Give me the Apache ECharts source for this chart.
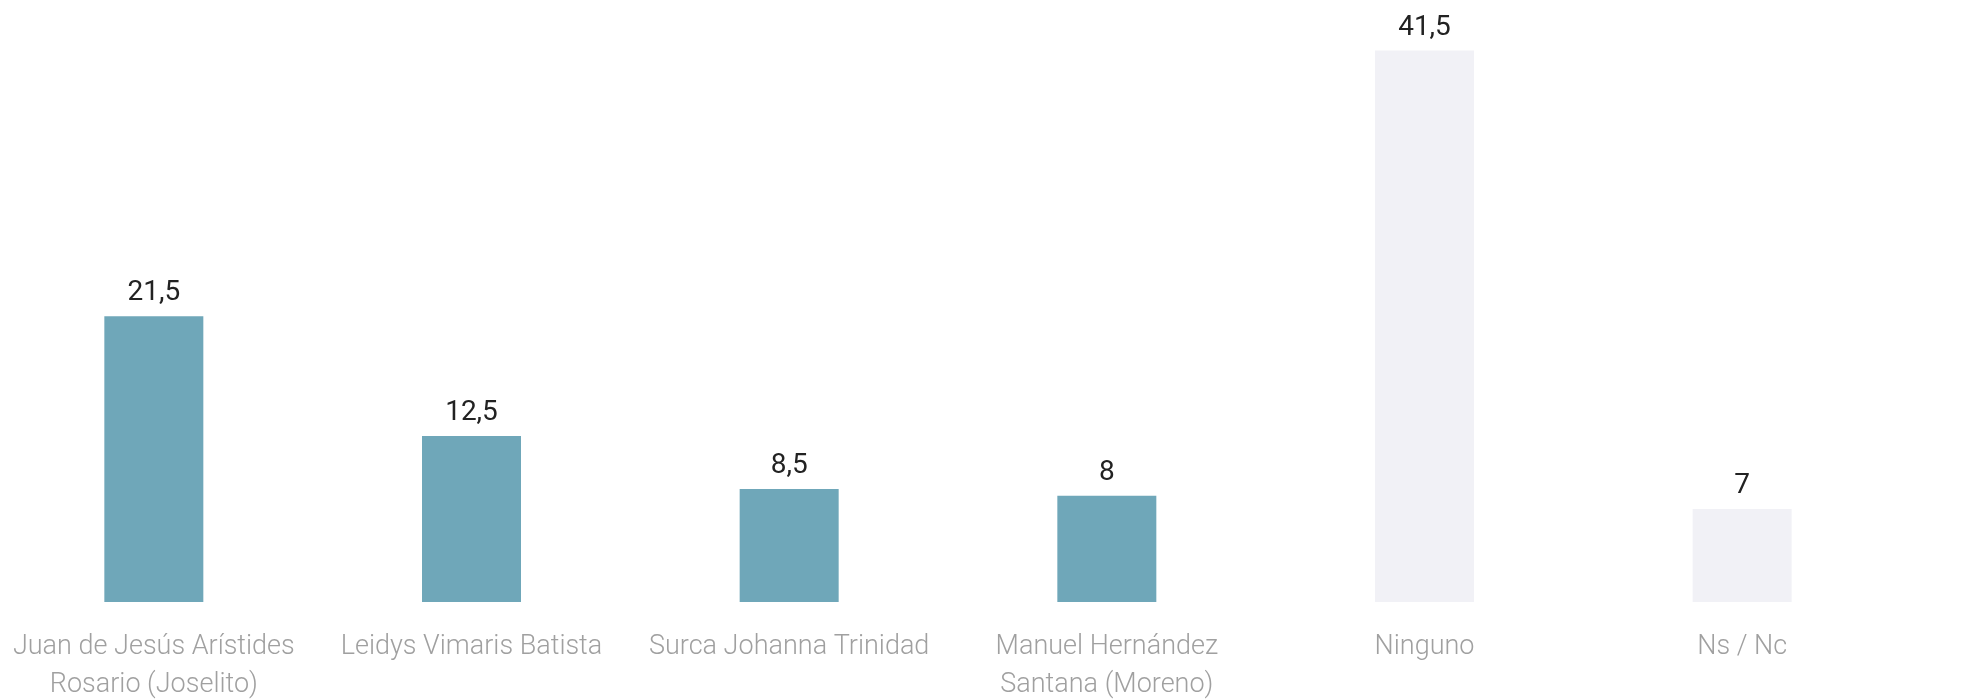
<!DOCTYPE html>
<html>
<head>
<meta charset="utf-8">
<script src="https://cdn.jsdelivr.net/npm/echarts@6/dist/echarts.min.js"></script>
<style>
html,body{margin:0;padding:0;background:#fff;}
#chart{width:1982px;height:700px;}
</style>
</head>
<body>
<div id="chart"></div>
<script>
const categories = [
  "Juan de Jesús Arístides\nRosario (Joselito)",
  "Leidys Vimaris Batista",
  "Surca Johanna Trinidad",
  "Manuel Hernández\nSantana (Moreno)",
  "Ninguno",
  "Ns / Nc"
];
const values = [21.5, 12.5, 8.5, 8, 41.5, 7];
const barColors = ["#6fa7b9", "#6fa7b9", "#6fa7b9", "#6fa7b9", "#f1f1f6", "#f1f1f6"];

const chart = echarts.init(document.getElementById('chart'));
chart.setOption({
  backgroundColor: '#ffffff',
  animation: false,
  grid: { left: -5, right: 81, top: 4, bottom: 98, containLabel: false, outerBoundsMode: 'none' },
  xAxis: {
    type: 'category',
    data: categories,
    axisLine: { show: false },
    axisTick: { show: false },
    axisLabel: {
      interval: 0,
      margin: 26,
      color: '#a0a0a0',
      fontFamily: 'Roboto',
      fontWeight: 300,
      fontSize: 27,
      lineHeight: 38
    }
  },
  yAxis: {
    type: 'value',
    min: 0,
    max: 45,
    show: false,
    splitLine: { show: false }
  },
  series: [{
    type: 'bar',
    barWidth: 99,
    data: values.map((v, i) => ({ value: v, itemStyle: { color: barColors[i] } })),
    label: {
      show: true,
      position: 'top',
      distance: 9,
      color: '#222222',
      fontFamily: 'Roboto',
      fontSize: 28,
      formatter: p => String(p.value).replace('.', ',')
    }
  }]
});
</script>
</body>
</html>
